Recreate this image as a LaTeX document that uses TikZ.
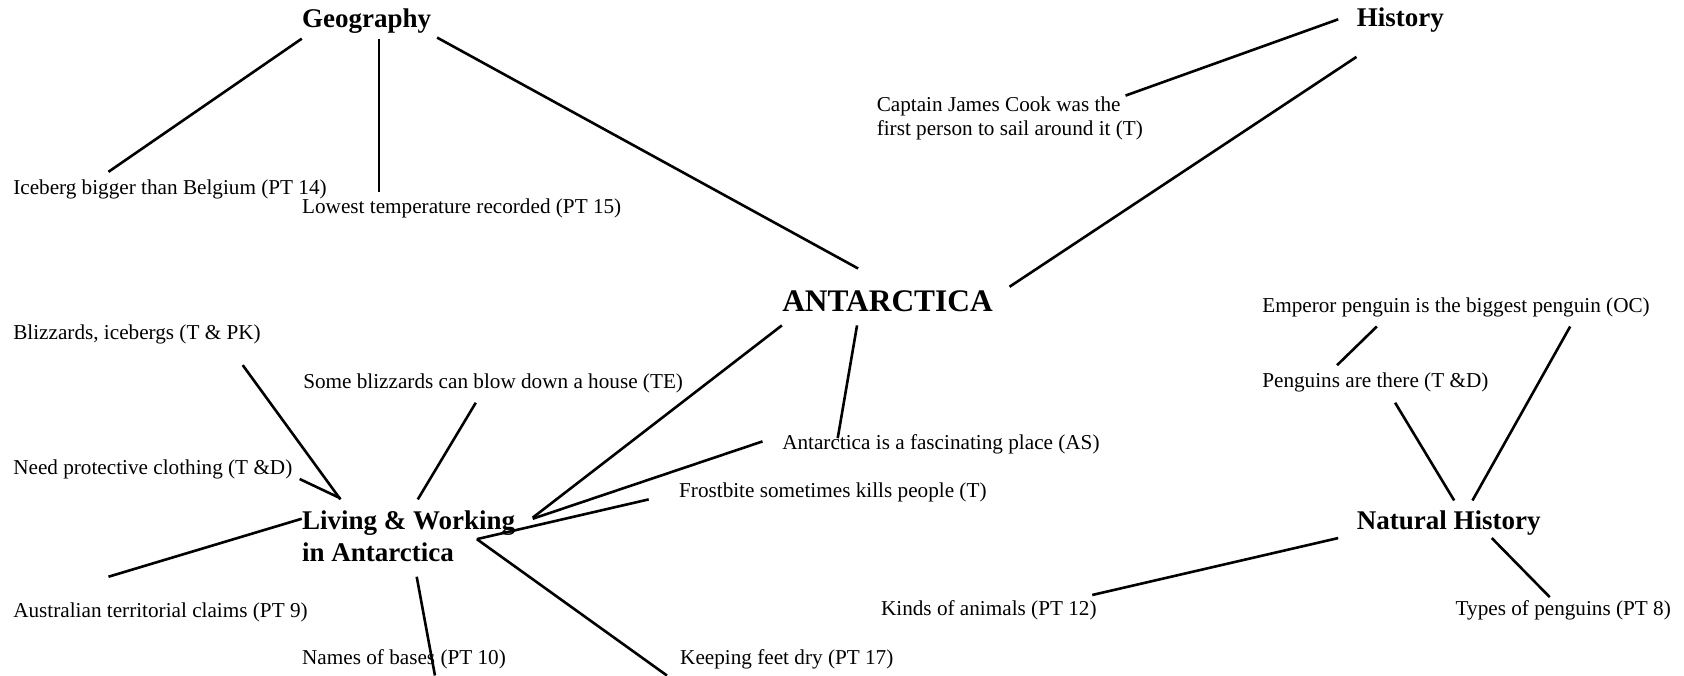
\documentclass[tikz,border=0pt]{standalone}
\usepackage{fontspec}
\setmainfont{Liberation Serif}
\usepackage{tikz}
\usetikzlibrary{positioning}

\tikzset{
hub/.style={font=\bfseries\fontsize{15.7}{18}\selectfont, anchor=base west, inner sep=0pt},
topic/.style={font=\bfseries\fontsize{13.5}{15}\selectfont, anchor=base west, inner sep=0pt},
fact/.style={font=\fontsize{10.6}{11.8}\selectfont, anchor=base west, inner sep=0pt},
link/.style={line width=1.3pt},
}

\begin{document}
\begin{tikzpicture}[%
x={(0.537pt,0pt)},
y={(0pt,-0.537pt)},
]

\path[fill=white,use as bounding box] (0,0) rectangle (1568,629);

%Themen
\node[hub](ant) at (728,290){ANTARCTICA};
\node[topic](geo) at (281,26){Geography};
\node[topic](hist) at (1263,25){History};
\node[topic,align=left](liv) at (281,523){Living \& Working\\[1.2pt]in Antarctica};
\node[topic](nat) at (1263,493){Natural History};

%Fakten
\node[fact](ice) at (12,181){Iceberg bigger than Belgium (PT 14)};
\node[fact](low) at (281,199){Lowest temperature recorded (PT 15)};
\node[fact,align=left](cook) at (816,126){Captain James Cook was the\\first person to sail around it (T)};
\node[fact](bliz) at (12,316){Blizzards, icebergs (T \& PK)};
\node[fact](some) at (282,362){Some blizzards can blow down a house (TE)};
\node[fact](need) at (12,442){Need protective clothing (T \&D)};
\node[fact](aus) at (12,575){Australian territorial claims (PT 9)};
\node[fact](names) at (281,619){Names of bases (PT 10)};
\node[fact](fasc) at (728,419){Antarctica is a fascinating place (AS)};
\node[fact](frost) at (632,463){Frostbite sometimes kills people (T)};
\node[fact](keep) at (633,619){Keeping feet dry (PT 17)};
\node[fact](emp) at (1175,291){Emperor penguin is the biggest penguin (OC)};
\node[fact](pen) at (1175,361){Penguins are there (T \&D)};
\node[fact](kinds) at (820,573){Kinds of animals (PT 12)};
\node[fact](types) at (1355,573){Types of penguins (PT 8)};

%Linien
\draw[link] ([shift={(0,10)}]geo.base west) -- ([shift={(89,-21)}]ice.base west);
\draw[link] ([shift={(72,10)}]geo.base west) -- ([shift={(72,-20)}]low.base west);
\draw[link] ([shift={(126,9)}]geo.base west) -- ([shift={(71,-40)}]ant.base west);
\draw[link] ([shift={(-17,-7)}]hist.base west) -- ([shift={(232,-37)}]cook.base west);
\draw[link] ([shift={(0,28)}]hist.base west) -- ([shift={(212,-23)}]ant.base west);
\draw[link] ([shift={(70,13)}]ant.base west) -- ([shift={(52,-11)}]fasc.base west);
\draw[link] ([shift={(0,13)}]ant.base west) -- ([shift={(215,-41)}]liv.base west);
\draw[link] ([shift={(215,-40)}]liv.base west) -- ([shift={(-18,-8)}]fasc.base west);
\draw[link] ([shift={(163,-21)}]liv.base west) -- ([shift={(-28,2)}]frost.base west);
\draw[link] ([shift={(163,-21)}]liv.base west) -- ([shift={(-12,10)}]keep.base west);
\draw[link] ([shift={(107,14)}]liv.base west) -- ([shift={(124,10)}]names.base west);
\draw[link] ([shift={(0,-40)}]liv.base west) -- ([shift={(89,-38)}]aus.base west);
\draw[link] ([shift={(36,-59)}]liv.base west) -- ([shift={(267,4)}]need.base west);
\draw[link] ([shift={(36,-58)}]liv.base west) -- ([shift={(214,24)}]bliz.base west);
\draw[link] ([shift={(108,-58)}]liv.base west) -- ([shift={(161,13)}]some.base west);
\draw[link] ([shift={(107,13)}]emp.base west) -- ([shift={(70,-21)}]pen.base west);
\draw[link] ([shift={(91,-27)}]nat.base west) -- ([shift={(124,14)}]pen.base west);
\draw[link] ([shift={(108,-27)}]nat.base west) -- ([shift={(287,13)}]emp.base west);
\draw[link] ([shift={(-17,8)}]nat.base west) -- ([shift={(197,-19)}]kinds.base west);
\draw[link] ([shift={(126,8)}]nat.base west) -- ([shift={(88,-17)}]types.base west);

\end{tikzpicture}
\end{document}
